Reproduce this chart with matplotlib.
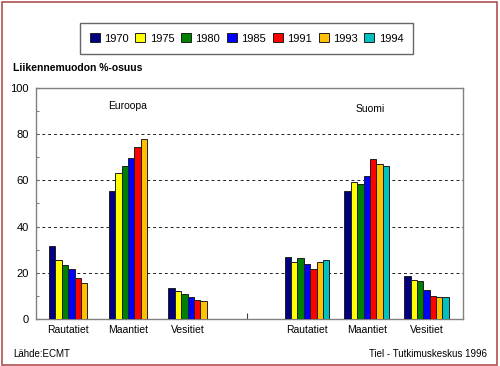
import numpy as np
import matplotlib
matplotlib.use("Agg")
from matplotlib import pyplot as plt
from matplotlib.patches import Rectangle

plt.rcParams['font.family'] = ['Liberation Sans', 'DejaVu Sans']

years = ['1970', '1975', '1980', '1985', '1991', '1993', '1994']
colors = ['#000080', '#ffff00', '#008000', '#0000ff', '#ff0000', '#ffc000', '#00c0c0']
modes = ['Rautatiet', 'Maantiet', 'Vesitiet']

# Eurooppa: no 1994 value
europe = [
    [31.7, 25.6, 23.5, 21.7, 18.0, 15.6, np.nan],
    [55.6, 63.2, 66.4, 69.7, 74.3, 77.7, np.nan],
    [13.6, 12.2, 11.0, 9.6, 8.1, 7.7, np.nan],
]
finland = [
    [26.7, 24.6, 26.5, 24.0, 21.6, 24.6, 25.5],
    [55.5, 59.3, 58.3, 61.7, 69.3, 67.0, 66.1],
    [18.7, 17.1, 16.5, 12.6, 10.1, 9.4, 9.4],
]

fig = plt.figure(figsize=(5.0, 3.66), dpi=100)
ax = fig.add_axes([0.072, 0.128, 0.855, 0.632])

bw = 0.107
groups = [(0, europe), (4, finland)]
for start, data in groups:
    for gi, vals in enumerate(data):
        vals = np.array(vals)
        n = np.sum(~np.isnan(vals))
        center = start + gi
        for k in range(n):
            x = center + (k - (n - 1) / 2) * bw
            ax.bar(x, vals[k], width=bw, color=colors[k], edgecolor='#202020',
                   linewidth=0.7, zorder=3)

ax.set_xlim(-0.54, 6.62)
ax.set_ylim(0, 100)
ax.set_yticks([0, 20, 40, 60, 80, 100])
ax.set_yticks([10, 30, 50, 70, 90], minor=True)
ax.tick_params(axis='y', which='both', direction='in', length=2.5, labelsize=8,
               color='#606060', pad=5)
ax.set_xticks(range(7))
ax.set_xticklabels(modes + [''] + modes, fontsize=7.5)
ax.tick_params(axis='x', direction='in', length=4, color='#404040', pad=4)
for y in [20, 40, 60, 80]:
    ax.axhline(y, color='#202020', linestyle=(0, (3, 3)), linewidth=0.7, zorder=1)
for s in ax.spines.values():
    s.set_color('#808080')
    s.set_linewidth(1.0)

ax.text(0.99, 92, 'Euroopa', fontsize=7.5, ha='center', va='center')
ax.text(5.05, 91, 'Suomi', fontsize=7.5, ha='center', va='center')

handles = [Rectangle((0, 0), 1, 1, facecolor=c, edgecolor='#202020', linewidth=0.7)
           for c in colors]
fig.legend(handles, years, loc='center', bbox_to_anchor=(0.493, 0.895), ncol=7,
           fontsize=8, frameon=True, fancybox=False, edgecolor='#404040',
           handlelength=0.9, handleheight=0.9, handletextpad=0.4, columnspacing=0.6,
           borderpad=0.9)

fig.text(0.026, 0.813, 'Liikennemuodon %-osuus', fontsize=7.5, fontweight='bold',
         ha='left', va='center')
fig.text(0.026, 0.033, 'Lähde:ECMT', fontsize=7, ha='left', va='center')
fig.text(0.974, 0.033, 'Tiel - Tutkimuskeskus 1996', fontsize=7, ha='right', va='center')

fig.patches.append(Rectangle((0.004, 0.004), 0.99, 0.99, transform=fig.transFigure,
                             fill=False, edgecolor='#b05050', linewidth=1.2))

fig.savefig('out.png', dpi=100)
